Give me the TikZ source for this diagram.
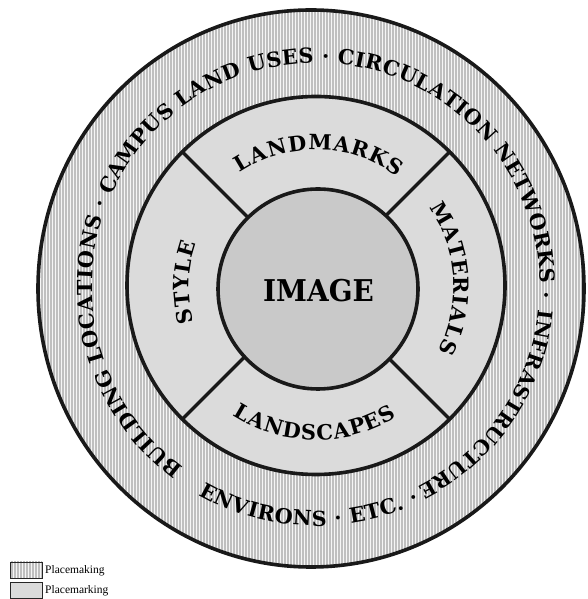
\documentclass[tikz,border=0pt]{standalone}
\usepackage{fontspec}
\newfontfamily\legendfont{Liberation Serif}
\newfontfamily\dvserif{DejaVu Serif}
\usetikzlibrary{decorations.text,patterns.meta,calc}
\newcommand\ringfont{\dvserif\bfseries\fontsize{20.7}{24}\selectfont}
\newcommand\infrafont{\dvserif\bfseries\fontsize{20.3}{24}\selectfont}
\newcommand\midfont{\dvserif\bfseries\fontsize{21}{24}\selectfont}
\tikzset{
  ringline/.style={line width=3.6pt, draw=black!90},
  divider/.style={line width=3.4pt, draw=black!90},
  outerfill/.style={fill=gray!8},
  outerlines/.style={pattern={Lines[angle=90,distance=3pt,line width=1.1pt]}, pattern color=gray!50},
  midfill/.style={fill=gray!28},
  innerfill/.style={fill=gray!42},
  arctext/.style={decorate, decoration={text along path, text align={fit to path}, text={#1}}},
  legendtext/.style={font=\legendfont\fontsize{11.5}{13}\selectfont, inner sep=0pt, anchor=west},
  legendbox/.style={draw=black!85, line width=0.7pt}
}
\begin{document}
\begin{tikzpicture}[x=1pt,y=1pt]
\useasboundingbox (0,0) rectangle (588,599);
\coordinate (C) at (316,312);
\coordinate (Co) at (311,310.5);
\coordinate (Cm) at (316,313.5);
\coordinate (Ci) at (318,310);
% outer ring
\fill[outerfill, even odd rule] (Co) ellipse[x radius=273pt, y radius=278.5pt] (Cm) circle[radius=189pt];
\fill[outerlines, even odd rule] (Co) ellipse[x radius=273pt, y radius=278.5pt] (Cm) circle[radius=189pt];
% middle ring
\fill[midfill] (Cm) circle[radius=189pt];
\foreach \a in {45,135,225,315}
  \draw[divider] ($(Cm)+(\a:96pt)$) -- ($(Cm)+(\a:188pt)$);
\draw[ringline] (Cm) circle[radius=189pt];
\draw[ringline] (Co) ellipse[x radius=273pt, y radius=278.5pt];
% inner circle
\fill[innerfill] (Ci) circle[radius=100pt];
\draw[ringline] (Ci) circle[radius=100pt];
\node (img) at (318.5,308) {\scalebox{0.93}[1]{\dvserif\bfseries\fontsize{30}{34}\selectfont IMAGE}};
% outer ring texts
\path[arctext={|\ringfont|BUILDING LOCATIONS · CAMPUS LAND USES · CIRCULATION NETWORKS ·}]
  ($(C)+(233.7:224pt)$) arc[start angle=233.7, end angle=-3, radius=224pt];
\path[arctext={|\infrafont|INFRASTRUCTURE}]
  ($(C)+(-5.8:224pt)$) arc[start angle=-5.8, end angle=-63, radius=224pt];
\path[arctext={|\ringfont|ENVIRONS · ETC. ·}]
  ($(C)+(240.5:239pt)$) arc[start angle=240.5, end angle=295.7, radius=239pt];
% middle ring texts
\path[arctext={|\midfont|LANDMARKS}]
  ($(C)+(123.7:137pt)$) arc[start angle=123.7, end angle=53.6, radius=137pt];
\path[arctext={|\midfont|MATERIALS}]
  ($(C)+(35.1:138pt)$) arc[start angle=35.1, end angle=-27.5, radius=138pt];
\path[arctext={|\midfont|STYLE}]
  ($(C)+(196:127pt)$) arc[start angle=196, end angle=160, radius=127pt];
\path[arctext={|\midfont|LANDSCAPES}]
  ($(C)+(237.1:153pt)$) arc[start angle=237.1, end angle=301.8, radius=153pt];
% legend
\fill[outerfill] (10,21) rectangle (42,37);
\fill[outerlines] (10,21) rectangle (42,37);
\draw[legendbox] (10,21) rectangle (42,37);
\fill[midfill] (10,1) rectangle (42,17);
\draw[legendbox] (10,1) rectangle (42,17);
\node[legendtext] (lg1) at (45,28) {Placemaking};
\node[legendtext] (lg2) at (45,8.5) {Placemarking};
\end{tikzpicture}
\end{document}
